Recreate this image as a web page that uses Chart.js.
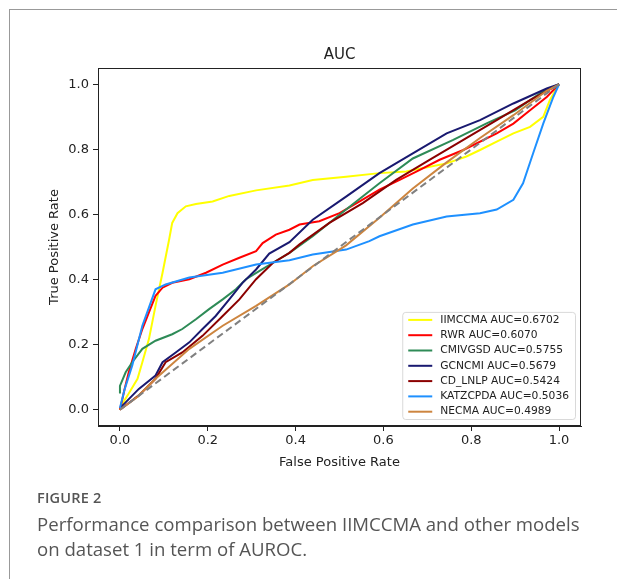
<!DOCTYPE html>
<html>
<head>
<meta charset="utf-8">
<script src="https://cdn.jsdelivr.net/npm/chart.js@4"></script>
<style>
  body { margin: 0; background: #fff; }
  #page { position: relative; width: 617px; height: 579px; overflow: hidden; background: #fff; }
  #frameTop { position: absolute; left: 9px; top: 9px; width: 608px; height: 1px; background: #999; }
  #frameLeft { position: absolute; left: 9px; top: 9px; width: 1px; height: 570px; background: #999; }
  #myChart { position: absolute; left: 0; top: 0; }
  .figno { position: absolute; left: 37px; top: 488px; font: 600 14.5px "Open Sans", sans-serif; color: #555; line-height: 20px; letter-spacing: 0.2px; }
  .figtxt { position: absolute; left: 37px; top: 511px; font: 400 18.6px "Open Sans", sans-serif; color: #555; line-height: 25px; white-space: nowrap; }
</style>
</head>
<body>
<div id="page">
  <div id="frameTop"></div>
  <div id="frameLeft"></div>
  <canvas id="myChart" width="617" height="579"></canvas>
  <div class="figno">FIGURE 2</div>
  <div class="figtxt">Performance comparison between IIMCCMA and other models<br>on dataset 1 in term of AUROC.</div>
</div>
<script>
// tick labels shared by both axes
var tickValues = [0, 0.2, 0.4, 0.6, 0.8, 1.0];
var tickLabels = ["0.0", "0.2", "0.4", "0.6", "0.8", "1.0"];

var models = ["IIMCCMA AUC=0.6702", "RWR AUC=0.6070", "CMIVGSD AUC=0.5755", "GCNCMI AUC=0.5679",
  "CD_LNLP AUC=0.5424", "KATZCPDA AUC=0.5036", "NECMA AUC=0.4989"];
var colors = ["#ffff00", "#ff0000", "#2e8b57", "#191970", "#8b0000", "#1e90ff", "#cd853f"];

// ROC points (false positive rate / true positive rate)
var iimccmaFpr = [0, 0.005, 0.02, 0.04, 0.051, 0.066, 0.081, 0.097, 0.112, 0.119, 0.131, 0.15, 0.173, 0.211, 0.249, 0.31, 0.386, 0.439, 0.515, 0.591, 0.652, 0.70, 0.744, 0.789, 0.82, 0.858, 0.896, 0.934, 0.964, 0.979, 0.998, 1.0];
var iimccmaTpr = [0, 0.018, 0.05, 0.095, 0.146, 0.217, 0.319, 0.421, 0.523, 0.574, 0.604, 0.625, 0.632, 0.640, 0.657, 0.674, 0.689, 0.706, 0.716, 0.727, 0.732, 0.745, 0.757, 0.778, 0.798, 0.824, 0.849, 0.869, 0.9, 0.951, 0.997, 1.0];

var rwrFpr = [0, 0.01, 0.02, 0.036, 0.051, 0.066, 0.081, 0.097, 0.119, 0.158, 0.196, 0.234, 0.272, 0.31, 0.325, 0.355, 0.386, 0.409, 0.454, 0.5, 0.546, 0.591, 0.637, 0.683, 0.728, 0.782, 0.858, 0.896, 0.934, 0.972, 1.0];
var rwrTpr = [0, 0.06, 0.115, 0.187, 0.248, 0.299, 0.35, 0.375, 0.39, 0.401, 0.421, 0.446, 0.467, 0.487, 0.512, 0.538, 0.553, 0.569, 0.579, 0.604, 0.64, 0.676, 0.706, 0.737, 0.768, 0.798, 0.849, 0.879, 0.92, 0.961, 1.0];

var cmivgsdFpr = [0, 0, 0.013, 0.028, 0.051, 0.081, 0.119, 0.142, 0.173, 0.203, 0.234, 0.264, 0.287, 0.317, 0.355, 0.386, 0.439, 0.515, 0.591, 0.667, 0.759, 0.835, 0.9, 0.96, 1.0];
var cmivgsdTpr = [0.05, 0.073, 0.115, 0.146, 0.187, 0.212, 0.232, 0.248, 0.278, 0.309, 0.339, 0.37, 0.401, 0.426, 0.457, 0.482, 0.533, 0.615, 0.696, 0.772, 0.829, 0.88, 0.92, 0.975, 1.0];

var gcncmiFpr = [0, 0.043, 0.081, 0.097, 0.127, 0.158, 0.188, 0.218, 0.249, 0.279, 0.31, 0.34, 0.386, 0.439, 0.515, 0.591, 0.667, 0.744, 0.82, 0.896, 0.972, 1.0];
var gcncmiTpr = [0.005, 0.064, 0.105, 0.146, 0.176, 0.207, 0.248, 0.288, 0.339, 0.39, 0.431, 0.48, 0.515, 0.584, 0.655, 0.727, 0.788, 0.849, 0.89, 0.941, 0.987, 1.0];

var cdlnlpFpr = [0, 0.043, 0.081, 0.104, 0.142, 0.188, 0.234, 0.272, 0.31, 0.348, 0.386, 0.409, 0.477, 0.553, 0.629, 0.705, 0.782, 0.858, 0.934, 1.0];
var cdlnlpTpr = [0, 0.044, 0.095, 0.146, 0.176, 0.227, 0.288, 0.339, 0.401, 0.451, 0.482, 0.508, 0.574, 0.635, 0.706, 0.768, 0.829, 0.89, 0.951, 1.0];

var katzFpr = [0, 0.01, 0.028, 0.051, 0.07, 0.081, 0.104, 0.158, 0.234, 0.31, 0.386, 0.439, 0.515, 0.568, 0.591, 0.667, 0.744, 0.82, 0.858, 0.896, 0.918, 0.941, 0.964, 0.987, 1.0];
var katzTpr = [0.005, 0.06, 0.136, 0.258, 0.329, 0.37, 0.385, 0.406, 0.421, 0.446, 0.459, 0.477, 0.492, 0.518, 0.533, 0.569, 0.594, 0.604, 0.615, 0.645, 0.696, 0.788, 0.879, 0.961, 1.0];

var necmaFpr = [0, 0.04, 0.081, 0.158, 0.234, 0.31, 0.386, 0.439, 0.515, 0.591, 0.667, 0.744, 0.82, 0.896, 0.972, 1.0];
var necmaTpr = [0, 0.04, 0.095, 0.187, 0.258, 0.319, 0.385, 0.441, 0.505, 0.59, 0.68, 0.76, 0.835, 0.905, 0.98, 1.0];

var diagFpr = [0, 1];
var diagTpr = [0, 1];

var allFpr = [iimccmaFpr, rwrFpr, cmivgsdFpr, gcncmiFpr, cdlnlpFpr, katzFpr, necmaFpr];
var allTpr = [iimccmaTpr, rwrTpr, cmivgsdTpr, gcncmiTpr, cdlnlpTpr, katzTpr, necmaTpr];

function toPoints(xs, ys) {
  return xs.map(function (x, i) { return { x: x, y: ys[i] }; });
}

var datasets = models.map(function (name, i) {
  return {
    label: name,
    data: toPoints(allFpr[i], allTpr[i]),
    borderColor: colors[i],
    backgroundColor: colors[i],
    borderWidth: 2,
    order: 10 - i // later curves on top, like matplotlib
  };
});
datasets.push({
  label: "",
  data: toPoints(diagFpr, diagTpr),
  borderColor: "#808080",
  borderWidth: 2,
  borderDash: [7, 4],
  order: 0
});

// title, box around the plot and the legend in the lower right
var extras = {
  id: "extras",
  afterDatasetsDraw: function (chart) {
    var ctx = chart.ctx;
    var a = chart.chartArea;
    ctx.save();
    ctx.strokeStyle = "#222";
    ctx.lineWidth = 1;
    ctx.strokeRect(a.left + 0.5, a.top + 0.5, a.right - a.left - 1, a.bottom - a.top - 1);

    ctx.fillStyle = "#222";
    ctx.font = '15px "DejaVu Sans"';
    ctx.textAlign = "center";
    ctx.textBaseline = "middle";
    ctx.fillText("AUC", (a.left + a.right) / 2, 55);

    var items = chart.data.datasets.filter(function (d) { return d.label; });
    ctx.font = '10.7px "DejaVu Sans"';
    var w = 0;
    items.forEach(function (d) { w = Math.max(w, ctx.measureText(d.label).width); });
    var rowH = 15.3;
    var boxW = w + 44;
    var boxH = rowH * items.length;
    var bx = a.right - 6 - boxW;
    var by = a.bottom - 7 - boxH;
    ctx.globalAlpha = 0.8;
    ctx.fillStyle = "#fff";
    ctx.strokeStyle = "#d0d0d0";
    ctx.beginPath();
    ctx.roundRect(bx + 0.5, by + 0.5, boxW, boxH, 3);
    ctx.fill();
    ctx.stroke();
    ctx.globalAlpha = 1;
    ctx.textAlign = "left";
    items.forEach(function (d, i) {
      var cy = by + 8 + i * rowH;
      ctx.strokeStyle = d.borderColor;
      ctx.lineWidth = 2;
      ctx.beginPath();
      ctx.moveTo(bx + 6, cy);
      ctx.lineTo(bx + 30, cy);
      ctx.stroke();
      ctx.fillStyle = "#222";
      ctx.fillText(d.label, bx + 38, cy);
    });
    ctx.restore();
  }
};

function axisOpts(title, isY) {
  return {
    type: "linear",
    min: -0.05,
    max: 1.05,
    afterBuildTicks: function (scale) {
      scale.ticks = tickValues.map(function (v) { return { value: v }; });
    },
    afterFit: function (scale) {
      if (isY) scale.width = 58; else scale.height = 50;
    },
    ticks: {
      color: "#222",
      font: { family: "DejaVu Sans", size: 13 },
      padding: isY ? 4 : 2,
      callback: function (v) {
        var k = tickValues.indexOf(v);
        return k >= 0 ? tickLabels[k] : "";
      }
    },
    grid: { drawOnChartArea: false, drawTicks: true, tickLength: 5, color: "#222" },
    border: { display: true, color: "#222" },
    title: {
      display: true,
      text: title,
      color: "#222",
      font: { family: "DejaVu Sans", size: 13 },
      padding: isY ? { top: 7, bottom: 0 } : { top: 0, bottom: 6 }
    }
  };
}

var ctx = document.getElementById("myChart").getContext("2d");
var myChart = new Chart(ctx, {
  type: "scatter",
  data: { datasets: datasets },
  options: {
    responsive: false,
    animation: false,
    devicePixelRatio: 1,
    showLine: true,
    elements: { point: { radius: 0 }, line: { tension: 0, fill: false } },
    layout: { padding: { left: 40, right: 36, top: 68, bottom: 103 } },
    plugins: { legend: { display: false }, tooltip: { enabled: false }, title: { display: false } },
    scales: {
      x: axisOpts("False Positive Rate", false),
      y: axisOpts("True Positive Rate", true)
    }
  },
  plugins: [extras]
});
</script>
</body>
</html>
